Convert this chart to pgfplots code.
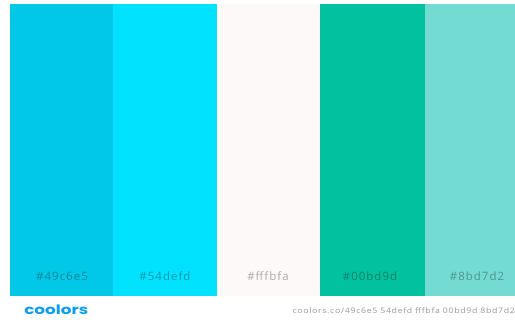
\documentclass[border=0pt]{standalone}
\usepackage{pgfplots}
\pgfplotsset{compat=1.18}
\usepackage{fontspec}
\setmainfont{Open Sans}
\newfontfamily\labfont[LetterSpace=9]{Open Sans}
\newfontfamily\urlfont[LetterSpace=8]{Open Sans}
\newfontfamily\logofont{Poppins}
\definecolor{c1}{HTML}{02C8E8}
\definecolor{c2}{HTML}{00E2FF}
\definecolor{c3}{HTML}{FDF9F8}
\definecolor{c4}{HTML}{02C19F}
\definecolor{c5}{HTML}{74DBD3}
\definecolor{logo}{HTML}{0A9CF0}
\begin{document}
\begin{tikzpicture}
\path[fill=white] (0,0) rectangle (515bp,320bp);
\begin{axis}[
  at={(10bp,24bp)}, anchor=south west,
  scale only axis, width=505bp, height=292bp,
  hide axis, xmin=10, xmax=515, ymin=0, ymax=1,
  clip=true,
]
\addplot[ybar, bar width=103, bar shift=0pt, fill=c1, draw=none] coordinates {(61.5,1)};
\addplot[ybar, bar width=104, bar shift=0pt, fill=c2, draw=none] coordinates {(165,1)};
\addplot[ybar, bar width=103, bar shift=0pt, fill=c3, draw=none] coordinates {(268.5,1)};
\addplot[ybar, bar width=105, bar shift=0pt, fill=c4, draw=none] coordinates {(372.5,1)};
\addplot[ybar, bar width=106, bar shift=0pt, fill=c5, draw=none] coordinates {(478,1)};
\foreach \x/\t in {62/49c6e5,165/54defd,268/fffbfa,370/00bd9d,477/8bd7d2}{
  \edef\tmp{\noexpand\node[text=black, text opacity=0.32, font=\noexpand\labfont\noexpand\fontsize{11.5}{13}\noexpand\selectfont] at (axis cs:\x,0.0685) {\noexpand\#\t};}
  \tmp
}
\end{axis}
\node[anchor=west, text=logo, inner sep=0pt, xscale=1.3, font=\logofont\bfseries\fontsize{13}{14}\selectfont] at (24bp,10bp) {coolors};
\node[anchor=east, text=black!40, inner sep=0pt, xscale=1.15, font=\urlfont\fontsize{7.6}{9}\selectfont] at (515bp,9bp) {coolors.co/49c6e5 54defd fffbfa 00bd9d 8bd7d2};
\end{tikzpicture}
\end{document}
